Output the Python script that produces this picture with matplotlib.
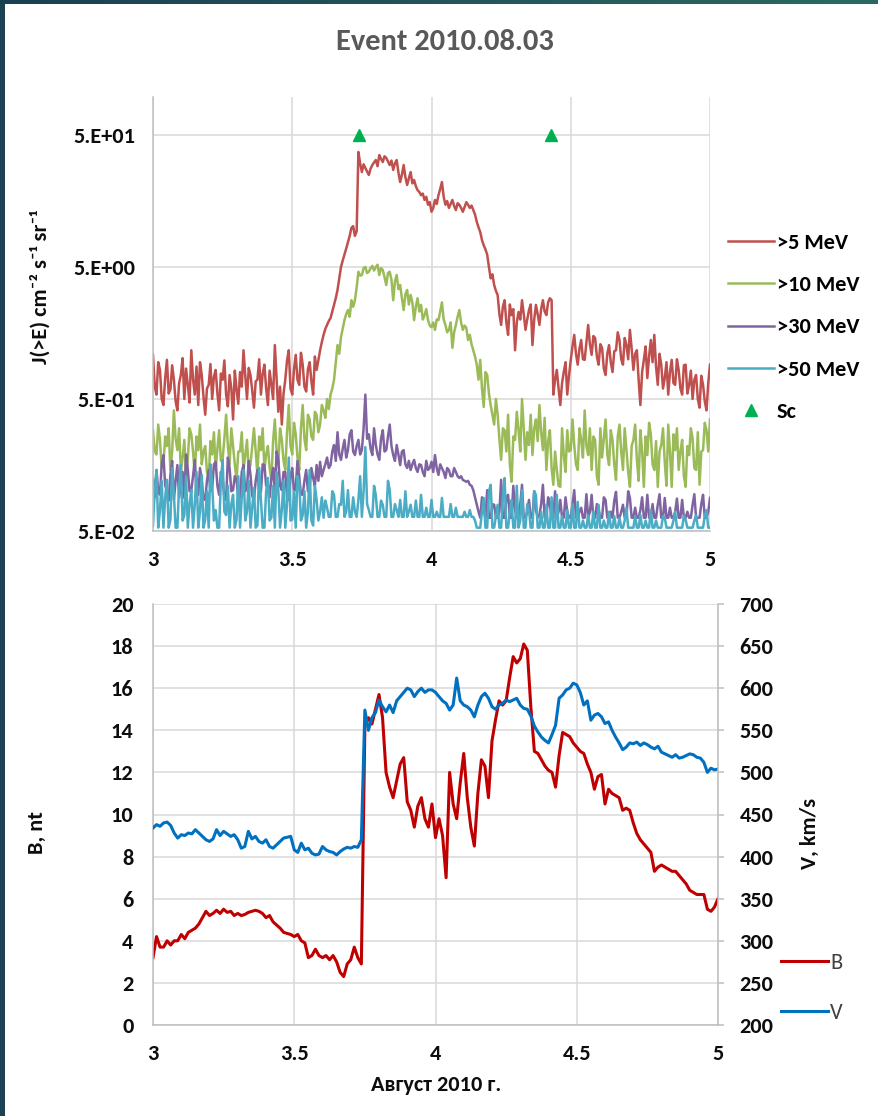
import numpy as np
import matplotlib
matplotlib.use("Agg")
import matplotlib.pyplot as plt
from matplotlib.colors import LinearSegmentedColormap
from matplotlib.ticker import NullLocator

plt.rcParams['font.family'] = ['Carlito', 'DejaVu Sans']

# ---------------- data ----------------
# integral proton flux J(>E), cm^-2 s^-1 sr^-1, 9-minute cadence over 3-5 August 2010
flux_5mev = [
    1.08, 0.62, 0.54, 0.95, 0.83, 0.5, 0.45, 0.72, 0.99, 0.55, 0.59, 0.9, 0.70, 0.48, 0.41, 0.66, 0.76, 1.02, 0.50, 0.85,
    0.64, 0.47, 1.17, 0.7, 0.54, 0.88, 0.45, 0.95, 0.76, 0.52, 0.38, 0.6, 0.64, 0.92, 0.50, 0.74, 0.83, 0.55, 0.41, 0.78,
    0.70, 0.98, 0.54, 0.44, 0.76, 0.6, 0.35, 0.82, 0.59, 0.46, 0.80, 0.62, 1.17, 0.75, 0.50, 0.86, 0.76, 0.58, 0.43, 0.68,
    0.70, 1.0, 0.54, 0.78, 0.91, 0.6, 0.45, 0.82, 0.64, 0.5, 1.28, 0.72, 0.40, 0.62, 0.32, 0.55, 0.70, 0.98, 1.17, 0.6,
    0.54, 0.84, 1.08, 0.7, 0.64, 1.12, 0.91, 0.62, 0.57, 0.84, 0.95, 0.68, 0.54, 1.05, 0.83, 0.98, 1.17, 1.35, 1.53, 1.7,
    1.82, 1.95, 2.05, 2.3, 2.58, 2.9, 3.35, 4.1, 5.0, 5.6, 6.2, 6.9, 7.7, 8.6, 9.9, 10.2, 8.6, 9.3, 37.2, 30.5,
    26.2, 30.0, 28.1, 26.5, 24.9, 27.8, 29.6, 31.0, 32.3, 29.0, 35.2, 33.0, 31.2, 34.5, 33.5, 31.5, 29.6, 32.0, 27.2, 30.5,
    32.3, 26.0, 22.0, 25.0, 29.6, 24.0, 20.9, 23.5, 26.2, 21.5, 22.8, 20.5, 19.1, 18.5, 17.5, 18.0, 16.1, 17.0, 14.8, 15.5,
    13.1, 14.0, 16.1, 15.0, 17.5, 19.5, 22.0, 17.0, 14.8, 15.8, 14.0, 15.0, 16.1, 14.5, 13.5, 15.2, 14.8, 14.0, 13.1, 14.2,
    15.5, 14.8, 14.0, 14.6, 13.5, 12.5, 11.0, 10.0, 9.2, 8.0, 7.3, 6.8, 6.2, 5.0, 4.1, 4.4, 3.65, 3.3, 3.07, 2.2,
    1.82, 2.5, 2.8, 1.9, 1.53, 2.6, 2.16, 2.4, 1.17, 1.9, 2.28, 2.0, 2.8, 2.2, 1.67, 2.0, 2.36, 2.6, 1.28, 2.0,
    2.58, 2.2, 1.82, 2.4, 2.8, 2.3, 2.16, 2.7, 2.9, 2.8, 0.54, 0.7, 0.83, 0.6, 0.45, 0.66, 0.80, 0.95, 0.54, 0.75,
    0.99, 1.25, 1.53, 1.1, 0.91, 1.2, 1.40, 1.0, 0.99, 1.35, 1.82, 1.3, 1.08, 1.5, 1.45, 1.05, 0.91, 1.3, 1.22, 0.85,
    0.76, 1.1, 1.28, 0.95, 0.80, 1.15, 1.17, 1.6, 1.40, 1.0, 0.91, 1.45, 1.28, 1.0, 1.67, 1.2, 0.83, 1.1, 1.17, 0.7,
    0.45, 0.8, 0.99, 1.25, 0.72, 1.05, 1.40, 0.95, 1.53, 0.88, 0.64, 1.1, 0.91, 0.6, 0.72, 0.95, 0.54, 0.8, 0.99, 0.66,
    0.64, 1.0, 0.83, 0.6, 0.54, 0.9, 0.91, 0.55, 0.64, 0.82, 0.50, 0.7, 0.76, 0.5, 0.43, 0.75, 0.64, 0.48, 0.41, 0.66,
    0.91,
]
flux_10mev = [
    0.29, 0.2, 0.19, 0.32, 0.245, 0.15, 0.16, 0.26, 0.22, 0.3, 0.145, 0.2, 0.41, 0.25, 0.205, 0.3, 0.14, 0.18, 0.245, 0.13,
    0.175, 0.3, 0.27, 0.2, 0.133, 0.26, 0.205, 0.32, 0.16, 0.2, 0.22, 0.14, 0.126, 0.24, 0.19, 0.28, 0.145, 0.21, 0.29, 0.17,
    0.175, 0.25, 0.38, 0.22, 0.16, 0.3, 0.22, 0.16, 0.122, 0.2, 0.2, 0.28, 0.145, 0.19, 0.245, 0.14, 0.16, 0.22, 0.3, 0.2,
    0.133, 0.26, 0.205, 0.3, 0.145, 0.19, 0.22, 0.15, 0.122, 0.24, 0.35, 0.2, 0.16, 0.3, 0.245, 0.17, 0.145, 0.28, 0.45, 0.22,
    0.19, 0.33, 0.27, 0.18, 0.145, 0.3, 0.45, 0.25, 0.205, 0.38, 0.35, 0.26, 0.245, 0.4, 0.38, 0.28, 0.32, 0.45, 0.41, 0.36,
    0.5, 0.42, 0.54, 0.6, 0.7, 0.95, 1.28, 1.1, 1.47, 1.7, 1.98, 2.2, 2.36, 2.1, 2.8, 2.5, 2.8, 3.5, 4.6, 4.3,
    4.35, 4.9, 5.0, 4.5, 4.6, 4.9, 5.1, 4.7, 5.0, 5.2, 4.35, 4.9, 4.75, 4.2, 3.65, 4.5, 4.6, 4.0, 2.8, 3.9,
    4.35, 3.4, 3.65, 2.9, 2.36, 3.1, 3.35, 2.6, 3.07, 2.7, 1.98, 2.5, 2.9, 2.3, 2.58, 2.0, 2.16, 2.4, 1.98, 1.8,
    1.75, 1.9, 1.67, 2.0, 1.98, 2.3, 2.7, 2.0, 1.82, 1.6, 1.67, 1.9, 1.22, 1.6, 1.82, 2.1, 2.36, 1.9, 1.67, 1.8,
    1.73, 1.4, 1.53, 1.3, 1.17, 1.05, 0.91, 0.7, 0.99, 0.6, 0.435, 0.8, 0.76, 0.55, 0.45, 0.38, 0.32, 0.5, 0.38, 0.25,
    0.173, 0.3, 0.29, 0.2, 0.38, 0.16, 0.118, 0.26, 0.245, 0.4, 0.29, 0.2, 0.5, 0.3, 0.173, 0.28, 0.224, 0.38, 0.188, 0.3,
    0.35, 0.24, 0.45, 0.28, 0.205, 0.36, 0.145, 0.24, 0.29, 0.15, 0.112, 0.2, 0.145, 0.11, 0.108, 0.3, 0.188, 0.14, 0.29, 0.2,
    0.205, 0.35, 0.224, 0.16, 0.145, 0.3, 0.245, 0.18, 0.41, 0.22, 0.188, 0.3, 0.145, 0.26, 0.245, 0.13, 0.112, 0.3, 0.18, 0.25,
    0.35, 0.19, 0.158, 0.29, 0.245, 0.16, 0.122, 0.26, 0.32, 0.2, 0.145, 0.3, 0.205, 0.14, 0.108, 0.22, 0.245, 0.32, 0.173, 0.12,
    0.29, 0.2, 0.108, 0.26, 0.188, 0.33, 0.27, 0.16, 0.145, 0.24, 0.108, 0.2, 0.224, 0.3, 0.167, 0.11, 0.32, 0.2, 0.108, 0.27,
    0.205, 0.3, 0.145, 0.2, 0.245, 0.13, 0.108, 0.22, 0.188, 0.3, 0.25, 0.15, 0.145, 0.28, 0.112, 0.2, 0.205, 0.33, 0.29, 0.2,
    0.35,
]
flux_30mev = [
    0.122, 0.09, 0.145, 0.1, 0.094, 0.16, 0.188, 0.11, 0.102, 0.085, 0.133, 0.17, 0.086, 0.12, 0.158, 0.09, 0.112, 0.14, 0.089, 0.19,
    0.145, 0.1, 0.102, 0.13, 0.173, 0.095, 0.094, 0.15, 0.122, 0.087, 0.086, 0.12, 0.145, 0.1, 0.106, 0.16, 0.167, 0.11, 0.094, 0.14,
    0.126, 0.09, 0.086, 0.18, 0.15, 0.1, 0.102, 0.13, 0.122, 0.088, 0.09, 0.14, 0.158, 0.1, 0.106, 0.17, 0.133, 0.092, 0.086, 0.12,
    0.145, 0.1, 0.099, 0.16, 0.158, 0.11, 0.112, 0.09, 0.126, 0.15, 0.094, 0.2, 0.173, 0.11, 0.102, 0.14, 0.14, 0.09, 0.086, 0.13,
    0.15, 0.1, 0.106, 0.17, 0.13, 0.095, 0.094, 0.12, 0.145, 0.1, 0.106, 0.15, 0.126, 0.11, 0.158, 0.12, 0.167, 0.13, 0.145, 0.16,
    0.18, 0.15, 0.158, 0.2, 0.224, 0.17, 0.28, 0.19, 0.173, 0.21, 0.245, 0.18, 0.205, 0.27, 0.29, 0.2, 0.188, 0.22, 0.245, 0.19,
    0.205, 0.3, 0.54, 0.25, 0.27, 0.21, 0.188, 0.3, 0.224, 0.19, 0.173, 0.25, 0.29, 0.2, 0.205, 0.26, 0.32, 0.22, 0.188, 0.17,
    0.224, 0.19, 0.158, 0.2, 0.205, 0.16, 0.15, 0.17, 0.145, 0.16, 0.173, 0.15, 0.14, 0.16, 0.158, 0.14, 0.13, 0.17, 0.145, 0.15,
    0.167, 0.14, 0.188, 0.15, 0.133, 0.16, 0.15, 0.14, 0.126, 0.15, 0.145, 0.13, 0.13, 0.15, 0.14, 0.13, 0.126, 0.13, 0.122, 0.12,
    0.118, 0.12, 0.112, 0.11, 0.102, 0.09, 0.079, 0.07, 0.063, 0.09, 0.072, 0.063, 0.102, 0.063, 0.063, 0.08, 0.079, 0.063, 0.063, 0.07,
    0.122, 0.063, 0.063, 0.09, 0.094, 0.063, 0.063, 0.11, 0.072, 0.063, 0.063, 0.08, 0.112, 0.063, 0.063, 0.07, 0.086, 0.063, 0.063, 0.1,
    0.072, 0.063, 0.066, 0.08, 0.112, 0.063, 0.063, 0.09, 0.079, 0.063, 0.063, 0.1, 0.063, 0.07, 0.086, 0.063, 0.063, 0.09, 0.07, 0.063,
    0.063, 0.08, 0.102, 0.063, 0.063, 0.07, 0.075, 0.063, 0.063, 0.095, 0.063, 0.07, 0.094, 0.063, 0.063, 0.08, 0.072, 0.063, 0.063, 0.09,
    0.086, 0.063, 0.063, 0.07, 0.063, 0.085, 0.099, 0.063, 0.063, 0.07, 0.079, 0.063, 0.063, 0.1, 0.089, 0.063, 0.063, 0.075, 0.063, 0.063,
    0.072, 0.09, 0.063, 0.063, 0.094, 0.063, 0.063, 0.08, 0.063, 0.063, 0.079, 0.095, 0.063, 0.063, 0.089, 0.063, 0.063, 0.075, 0.063, 0.063,
    0.07, 0.088, 0.063, 0.063, 0.086, 0.063, 0.063, 0.07, 0.063, 0.063, 0.079, 0.095, 0.063, 0.063, 0.063, 0.08, 0.094, 0.063, 0.063, 0.07,
    0.089,
]
flux_50mev = [
    0.055, 0.1, 0.145, 0.053, 0.072, 0.12, 0.053, 0.09, 0.122, 0.053, 0.061, 0.15, 0.094, 0.053, 0.053, 0.11, 0.158, 0.06, 0.066, 0.13,
    0.053, 0.08, 0.102, 0.053, 0.079, 0.14, 0.053, 0.07, 0.133, 0.053, 0.061, 0.1, 0.053, 0.16, 0.112, 0.06, 0.072, 0.053, 0.053, 0.12,
    0.173, 0.07, 0.066, 0.11, 0.053, 0.08, 0.094, 0.053, 0.061, 0.13, 0.053, 0.09, 0.145, 0.06, 0.07, 0.12, 0.053, 0.075, 0.106, 0.053,
    0.055, 0.15, 0.086, 0.053, 0.053, 0.1, 0.126, 0.06, 0.063, 0.11, 0.053, 0.14, 0.102, 0.053, 0.072, 0.12, 0.053, 0.08, 0.18, 0.06,
    0.061, 0.1, 0.053, 0.13, 0.118, 0.06, 0.066, 0.1, 0.053, 0.07, 0.145, 0.06, 0.055, 0.11, 0.086, 0.06, 0.07, 0.09, 0.063, 0.085,
    0.075, 0.064, 0.064, 0.1, 0.094, 0.064, 0.064, 0.08, 0.079, 0.12, 0.064, 0.07, 0.102, 0.064, 0.064, 0.09, 0.07, 0.064, 0.086, 0.13,
    0.064, 0.1, 0.216, 0.08, 0.072, 0.064, 0.064, 0.11, 0.094, 0.064, 0.064, 0.085, 0.079, 0.064, 0.064, 0.12, 0.102, 0.064, 0.064, 0.08,
    0.072, 0.064, 0.086, 0.064, 0.064, 0.1, 0.064, 0.07, 0.079, 0.064, 0.064, 0.085, 0.064, 0.064, 0.094, 0.064, 0.064, 0.075, 0.064, 0.064,
    0.086, 0.064, 0.064, 0.07, 0.064, 0.064, 0.089, 0.064, 0.064, 0.064, 0.064, 0.08, 0.064, 0.064, 0.075, 0.064, 0.064, 0.064, 0.064, 0.07,
    0.064, 0.064, 0.072, 0.064, 0.064, 0.06, 0.053, 0.053, 0.053, 0.07, 0.089, 0.053, 0.053, 0.1, 0.112, 0.053, 0.053, 0.065, 0.079, 0.053,
    0.053, 0.09, 0.126, 0.053, 0.053, 0.07, 0.086, 0.053, 0.053, 0.11, 0.053, 0.06, 0.102, 0.053, 0.053, 0.08, 0.072, 0.053, 0.053, 0.1,
    0.094, 0.053, 0.053, 0.07, 0.053, 0.053, 0.079, 0.053, 0.053, 0.09, 0.053, 0.053, 0.094, 0.053, 0.053, 0.065, 0.053, 0.053, 0.072, 0.053,
    0.053, 0.08, 0.053, 0.053, 0.083, 0.053, 0.053, 0.06, 0.053, 0.053, 0.066, 0.053, 0.053, 0.07, 0.053, 0.053, 0.079, 0.053, 0.053, 0.06,
    0.053, 0.053, 0.07, 0.053, 0.053, 0.065, 0.053, 0.053, 0.063, 0.053, 0.053, 0.06, 0.075, 0.053, 0.053, 0.053, 0.053, 0.065, 0.053, 0.053,
    0.066, 0.053, 0.053, 0.06, 0.053, 0.053, 0.072, 0.053, 0.053, 0.06, 0.053, 0.053, 0.053, 0.065, 0.063, 0.053, 0.053, 0.053, 0.053, 0.06,
    0.07, 0.053, 0.053, 0.053, 0.053, 0.065, 0.061, 0.053, 0.053, 0.053, 0.053, 0.06, 0.066, 0.053, 0.053, 0.053, 0.053, 0.065, 0.072, 0.053,
    0.053,
]

# sudden commencements
sc_days = [3.74, 4.43]
sc_level = [50, 50]

# interplanetary magnetic field B, nT, and solar wind speed V, km/s (18-minute cadence)
field_b = [
    3.2, 4.2, 3.7, 3.7, 4.0, 3.8, 4.0, 4.0, 4.3, 4.1,
    4.4, 4.5, 4.6, 4.8, 5.1, 5.4, 5.2, 5.3, 5.45, 5.3,
    5.5, 5.35, 5.4, 5.2, 5.3, 5.2, 5.25, 5.35, 5.4, 5.45,
    5.4, 5.3, 5.1, 5.2, 4.9, 4.75, 4.6, 4.4, 4.35, 4.3,
    4.2, 4.3, 4.0, 3.9, 3.2, 3.3, 3.6, 3.3, 3.2, 3.3,
    3.1, 3.3, 3.0, 2.5, 2.3, 2.9, 3.1, 3.7, 3.2, 2.9,
    14.2, 14.6, 14.3, 15.0, 15.7, 14.6, 12.0, 11.3, 10.8, 11.6,
    12.4, 12.7, 10.6, 10.2, 9.4, 10.4, 10.8, 9.8, 9.4, 10.5,
    8.9, 9.8, 9.0, 7.0, 12.0, 10.5, 9.8, 11.5, 12.9, 10.8,
    9.4, 8.5, 11.0, 12.6, 12.3, 10.8, 13.5, 14.5, 15.4, 15.2,
    15.4, 16.5, 17.5, 17.2, 17.4, 18.1, 17.8, 15.1, 13.0, 12.9,
    12.6, 12.3, 12.1, 12.0, 11.3, 12.8, 13.9, 13.8, 13.7, 13.4,
    13.2, 13.0, 12.9, 12.4, 12.0, 11.2, 11.8, 11.9, 10.5, 11.2,
    11.0, 10.9, 10.8, 10.2, 10.3, 10.2, 9.6, 9.1, 8.8, 8.6,
    8.4, 8.2, 7.3, 7.5, 7.6, 7.5, 7.4, 7.3, 7.3, 7.1,
    6.9, 6.7, 6.4, 6.3, 6.2, 6.2, 6.2, 5.5, 5.4, 5.6,
    6.0,
]
wind_v = [
    434, 438, 436, 440, 441, 437, 428, 422, 426, 425,
    428, 427, 432, 428, 424, 420, 418, 421, 432, 425,
    430, 427, 424, 426, 420, 410, 412, 430, 421, 424,
    418, 416, 420, 412, 410, 414, 418, 422, 423, 424,
    408, 405, 416, 408, 410, 404, 402, 403, 412, 408,
    406, 405, 402, 406, 409, 411, 410, 412, 411, 420,
    574, 550, 565, 571, 586, 578, 572, 580, 571, 585,
    590, 595, 600, 598, 590, 596, 600, 595, 598, 598,
    595, 590, 585, 582, 574, 580, 612, 585, 580, 578,
    574, 566, 580, 590, 594, 588, 578, 575, 580, 582,
    586, 584, 586, 588, 580, 576, 575, 567, 555, 548,
    542, 538, 535, 545, 556, 588, 592, 598, 600, 606,
    604, 595, 580, 585, 562, 568, 570, 566, 558, 560,
    550, 542, 535, 527, 530, 535, 534, 536, 532, 535,
    533, 530, 528, 531, 524, 522, 520, 518, 521, 517,
    518, 520, 522, 521, 518, 517, 512, 500, 505, 503,
    504,
]

flux_ticks = [0.05, 0.5, 5, 50]
flux_tick_labels = ['5.E-02', '5.E-01', '5.E+00', '5.E+01']
day_ticks = [3, 3.5, 4, 4.5, 5]
day_tick_labels = ['3', '3.5', '4', '4.5', '5']
b_ticks = list(range(0, 21, 2))
v_ticks = list(range(200, 701, 50))


def day_axis(values):
    """Evenly spaced sample times (days) from 3 to 5 August for a series."""
    return np.linspace(3.0, 5.0, len(values))


# ---------------- figure ----------------
W, H = 879, 1116
fig = plt.figure(figsize=(W / 100, H / 100), dpi=100)
fig.patch.set_facecolor('white')


def px(x, y):
    return x / W, 1 - y / H


# dark frame strips along the left and top edges
edge_left = fig.add_axes([0, 0, 5 / W, 1])
edge_left.set_axis_off()
edge_left.add_patch(plt.Rectangle((0, 0), 1, 1, color='#1b4152', transform=edge_left.transAxes))
edge_top = fig.add_axes([0, 1 - 4 / H, 1, 4 / H])
edge_top.imshow(np.linspace(0, 1, 256)[None, :], aspect='auto',
                cmap=LinearSegmentedColormap.from_list('edge', ['#1b3f52', '#2b6a62']),
                extent=[0, 1, 0, 1])
edge_top.set_axis_off()

TXT = '#0d0d0d'
GRID = '#d9d9d9'
SPINE = '#bfbfbf'
FS = 16

# ----- upper panel: proton fluxes -----
ax1 = fig.add_axes([153 / W, 1 - 531 / H, (710 - 153) / W, (531 - 97) / H])
ax1.set_yscale('log')
ax1.set_xlim(3, 5)
ax1.set_ylim(0.05, 97)
ax1.set_yticks(flux_ticks)
ax1.set_yticklabels(flux_tick_labels)
ax1.yaxis.set_minor_locator(NullLocator())
ax1.set_xticks(day_ticks)
ax1.set_xticklabels(day_tick_labels)
ax1.grid(True, color=GRID, lw=1.1)
ax1.set_axisbelow(True)
for s in ['top', 'right']:
    ax1.spines[s].set_visible(False)
for s in ['left', 'bottom']:
    ax1.spines[s].set_color(SPINE)
    ax1.spines[s].set_linewidth(1.1)
ax1.tick_params(axis='y', length=0, pad=13, labelsize=FS, labelcolor=TXT)
ax1.tick_params(axis='x', length=0, pad=14, labelsize=FS, labelcolor=TXT)
for lab in ax1.get_xticklabels() + ax1.get_yticklabels():
    lab.set_fontweight('bold')

series = [
    (flux_5mev, '#C0504D', '>5 MeV'),
    (flux_10mev, '#9BBB59', '>10 MeV'),
    (flux_30mev, '#8064A2', '>30 MeV'),
    (flux_50mev, '#4BACC6', '>50 MeV'),
]
handles = []
for vals, col, name in series:
    ln, = ax1.plot(day_axis(vals), vals, color=col, lw=1.8, solid_joinstyle='round', label=name)
    handles.append(ln)
sc_pts, = ax1.plot(sc_days, sc_level, linestyle='none', marker='^', ms=8,
                   color='#00B050', label='Sc', clip_on=False, zorder=5)
handles.append(sc_pts)

fig.legend(handles=handles, loc='upper left', bbox_to_anchor=px(728, 233),
           frameon=False, prop={'weight': 'bold', 'size': FS},
           handlelength=2.05, handletextpad=0.15, labelspacing=1.0,
           borderpad=0, borderaxespad=0)

fig.text(*px(445, 42), 'Event 2010.08.03', ha='center', va='center',
         fontsize=22, fontweight='bold', color='#595959')
fig.text(*px(40, 287), 'J(>E) cm\u207b\u00b2 s\u207b\u00b9 sr\u207b\u00b9', rotation=90,
         ha='center', va='center', fontsize=FS, fontweight='bold', color=TXT)

# ----- lower panel: B and V -----
ax2 = fig.add_axes([153 / W, 1 - 1025 / H, (718 - 153) / W, (1025 - 604) / H])
ax2.set_xlim(3, 5)
ax2.set_ylim(0, 20)
ax2.set_yticks(b_ticks)
ax2.set_xticks(day_ticks)
ax2.set_xticklabels(day_tick_labels)
ax2.grid(True, color=GRID, lw=1.1)
ax2.set_axisbelow(True)
ax2.spines['top'].set_visible(False)
ax2.spines['right'].set_visible(False)
for s in ['left', 'bottom']:
    ax2.spines[s].set_color(SPINE)
    ax2.spines[s].set_linewidth(1.1)
ax2.tick_params(axis='y', length=0, pad=14, labelsize=FS, labelcolor=TXT)
ax2.tick_params(axis='x', length=0, pad=14, labelsize=FS, labelcolor=TXT)
for lab in ax2.get_xticklabels() + ax2.get_yticklabels():
    lab.set_fontweight('bold')

ax3 = ax2.twinx()
ax3.set_ylim(200, 700)
ax3.set_yticks(v_ticks)
for s in ['top', 'left', 'bottom']:
    ax3.spines[s].set_visible(False)
ax3.spines['right'].set_color(SPINE)
ax3.spines['right'].set_linewidth(1.1)
ax3.tick_params(axis='y', length=4.5, width=1.1, color=SPINE, pad=11,
                labelsize=FS, labelcolor=TXT)
for lab in ax3.get_yticklabels():
    lab.set_fontweight('bold')

lb, = ax2.plot(day_axis(field_b), field_b, color='#C00000', lw=2.2,
               solid_joinstyle='round', label='B')
lv, = ax3.plot(day_axis(wind_v), wind_v, color='#0070C0', lw=2.2,
               solid_joinstyle='round', label='V')

fig.legend(handles=[lb, lv], loc='upper left', bbox_to_anchor=px(781, 953),
           frameon=False, prop={'size': FS}, labelcolor='#404040',
           handlelength=2.1, handletextpad=0.1, labelspacing=1.35,
           borderpad=0, borderaxespad=0)

fig.text(*px(37, 833), 'B, nt', rotation=90, ha='center', va='center',
         fontsize=FS, fontweight='bold', color=TXT)
fig.text(*px(810, 833), 'V, km/s', rotation=90, ha='center', va='center',
         fontsize=FS, fontweight='bold', color=TXT)
fig.text(*px(436, 1085), 'Август 2010 г.', ha='center', va='center',
         fontsize=FS, fontweight='bold', color=TXT)

fig.savefig('out.png', dpi=100, facecolor='white')
